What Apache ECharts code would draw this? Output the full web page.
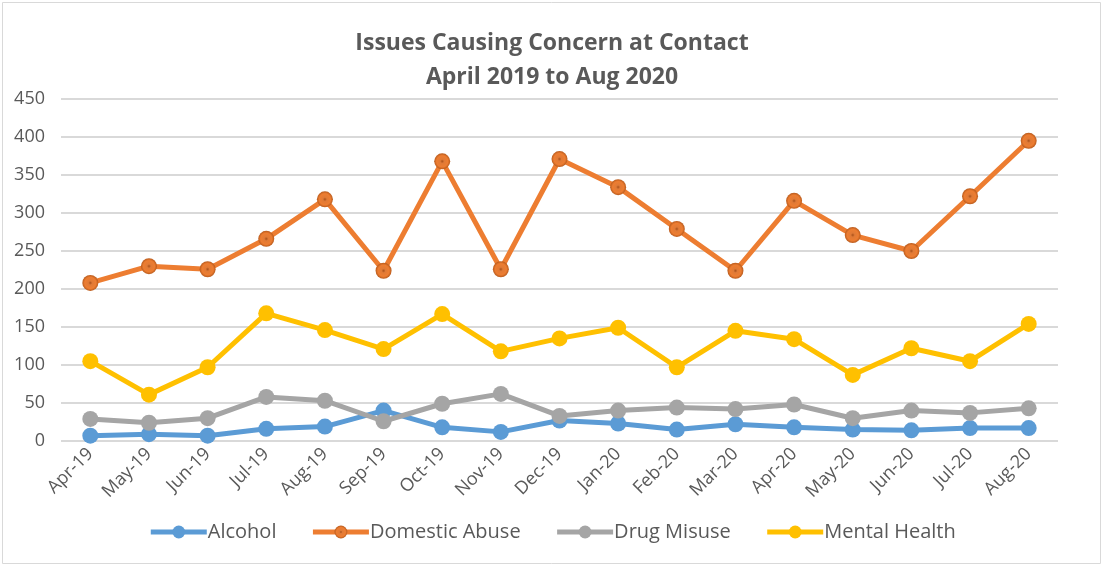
<!DOCTYPE html>
<html>
<head>
<meta charset="utf-8">
<script src="https://cdn.jsdelivr.net/npm/echarts@6/dist/echarts.min.js"></script>
<style>
  html, body { margin: 0; padding: 0; background: #fff; }
  #main { width: 1104px; height: 567px; }
</style>
</head>
<body>
<div id="main"></div>
<script>
const months = ['Apr-19', 'May-19', 'Jun-19', 'Jul-19', 'Aug-19', 'Sep-19', 'Oct-19', 'Nov-19', 'Dec-19',
  'Jan-20', 'Feb-20', 'Mar-20', 'Apr-20', 'May-20', 'Jun-20', 'Jul-20', 'Aug-20'];
const alcohol = [7, 9, 7, 16, 19, 40, 18, 12, 27, 23, 15, 22, 18, 15, 14, 17, 17];
const domesticAbuse = [208, 230, 226, 266, 318, 224, 368, 226, 371, 334, 279, 224, 316, 271, 250, 322, 395];
const drugMisuse = [29, 24, 30, 58, 53, 26, 49, 62, 33, 40, 44, 42, 48, 30, 40, 37, 43];
const mentalHealth = [105, 61, 97, 168, 146, 121, 167, 118, 135, 149, 97, 145, 134, 87, 122, 105, 154];

const font = '"Open Sans", "Noto Sans", sans-serif';
const textColor = '#595959';

function lineSeries(name, data, color, itemColor) {
  return {
    name: name,
    type: 'line',
    data: data,
    symbol: 'circle',
    symbolSize: 16,
    lineStyle: { width: 5, color: color },
    itemStyle: { color: itemColor || color },
    emphasis: { disabled: true }
  };
}

const sphere = {
  type: 'radial', x: 0.5, y: 0.5, r: 0.5,
  colorStops: [
    { offset: 0, color: '#A9501A' },
    { offset: 0.25, color: '#E07A36' },
    { offset: 0.7, color: '#ED7D31' },
    { offset: 1, color: '#B85A1C' }
  ]
};

const chart = echarts.init(document.getElementById('main'));
chart.setOption({
  animation: false,
  backgroundColor: '#fff',
  title: {
    text: 'Issues Causing Concern at Contact\nApril 2019 to Aug 2020',
    left: 'center',
    top: 21,
    textStyle: {
      fontFamily: font,
      fontWeight: 'bold',
      fontSize: 23,
      lineHeight: 34,
      color: textColor
    }
  },
  graphic: [{
    type: 'rect',
    shape: { x: 2.5, y: 2.5, width: 1098, height: 561 },
    style: { fill: 'none', stroke: '#d9d9d9', lineWidth: 1 },
    silent: true
  }],
  legend: {
    bottom: 20,
    left: 'center',
    itemWidth: 56,
    itemHeight: 16,
    itemGap: 34,
    lineStyle: { width: 5 },
    textStyle: { fontFamily: font, fontSize: 20, color: textColor, padding: [0, 0, 0, -4] },
    data: ['Alcohol', 'Domestic Abuse', 'Drug Misuse', 'Mental Health']
  },
  grid: { left: 61, right: 46, top: 99, bottom: 126 },
  xAxis: {
    type: 'category',
    data: months,
    boundaryGap: true,
    axisLine: { show: false },
    axisTick: { show: false },
    axisLabel: {
      rotate: 45,
      interval: 0,
      margin: 10,
      fontFamily: font,
      fontSize: 18,
      color: textColor
    }
  },
  yAxis: {
    type: 'value',
    min: 0,
    max: 450,
    interval: 50,
    axisLine: { show: false },
    axisTick: { show: false },
    axisLabel: {
      fontFamily: font,
      fontSize: 18,
      color: textColor,
      margin: 16
    },
    splitLine: { lineStyle: { color: '#d9d9d9', width: 2 } }
  },
  series: [
    lineSeries('Alcohol', alcohol, '#5B9BD5'),
    lineSeries('Domestic Abuse', domesticAbuse, '#ED7D31', sphere),
    lineSeries('Drug Misuse', drugMisuse, '#A5A5A5'),
    lineSeries('Mental Health', mentalHealth, '#FFC000')
  ]
});
</script>
</body>
</html>
